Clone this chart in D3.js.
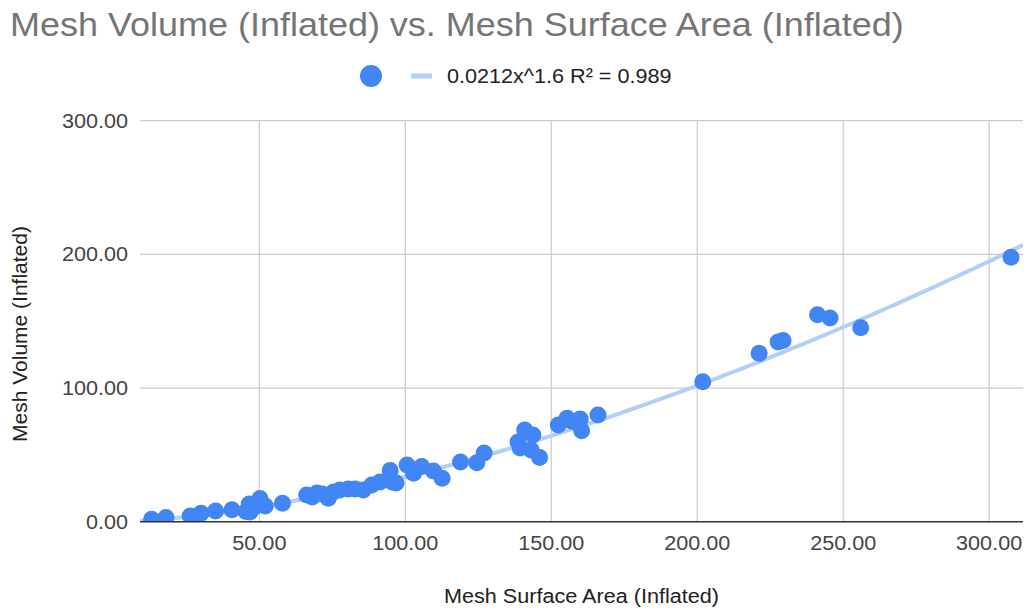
<!DOCTYPE html>
<html>
<head>
<meta charset="utf-8">
<script src="https://cdn.jsdelivr.net/npm/d3@7"></script>
<style>
  body { margin: 0; background: #fff; }
  text { font-family: Arial, "Liberation Sans", sans-serif; }
</style>
</head>
<body>
<script>
// chart data
var surfaceArea = [13.1, 18.0, 26.3, 30.0, 35.0, 40.6, 45.4, 46.5, 46.8, 48.9,
  50.2, 52.0, 57.9, 66.2, 68.1, 69.7, 71.5, 73.6, 75.4, 77.6,
  80.4, 82.8, 85.6, 88.5, 91.3, 94.8, 95.5, 96.8, 100.6, 102.8,
  105.6, 109.6, 112.6, 118.9, 124.5, 127.0, 138.6, 139.3, 140.9, 143.7,
  143.1, 146.0, 152.4, 155.4, 157.1, 159.9, 160.4, 166.0, 201.9, 221.2,
  227.7, 229.4, 241.2, 245.5, 256.0, 307.5];
var volume = [1.8, 3.1, 4.3, 6.3, 8.0, 9.0, 7.6, 13.2, 7.3, 11.7,
  17.4, 11.7, 13.8, 20.0, 18.5, 21.5, 20.7, 17.5, 22.2, 23.7,
  24.5, 24.5, 23.7, 27.5, 29.7, 38.3, 29.7, 29.0, 42.4, 36.2,
  41.3, 37.9, 32.5, 44.7, 44.1, 51.4, 59.6, 55.1, 68.6, 64.9,
  53.6, 48.0, 72.3, 77.4, 75.1, 76.8, 68.1, 79.8, 104.7, 126.0,
  134.4, 135.6, 154.9, 152.4, 145.1, 197.8];
var xTicks = [50, 100, 150, 200, 250, 300];
var yTicks = [0, 100, 200, 300];
// power trendline from the legend: y = a * x^b
var trendA = 0.0212;
var trendB = 1.6;
var legendLabel = "0.0212x^1.6 R\u00b2 = 0.989";

var svgWidth = 1026, svgHeight = 610;
var plot = { left: 140, right: 1023, top: 120.7, bottom: 521.7 };
var pointColor = "#4285f4";
var trendColor = "#b3cefa";

var svg = d3.select("body").append("svg")
  .attr("width", svgWidth)
  .attr("height", svgHeight);

var xScale = d3.scaleLinear().domain([9.1, 311.6]).range([plot.left, plot.right]);
var yScale = d3.scaleLinear().domain([0, 300]).range([plot.bottom, plot.top]);

// the reference text is a bit wider than plain Arial, stretch it slightly
function widen(sel, k) {
  sel.each(function() {
    var w = this.getComputedTextLength();
    d3.select(this)
      .attr("textLength", w * k)
      .attr("lengthAdjust", "spacingAndGlyphs");
  });
}

// title
svg.append("text")
  .attr("x", 10)
  .attr("y", 36)
  .attr("font-size", "33px")
  .attr("fill", "#757575")
  .text("Mesh Volume (Inflated) vs. Mesh Surface Area (Inflated)")
  .call(widen, 1.09);

// legend
svg.append("circle")
  .attr("cx", 371).attr("cy", 76).attr("r", 11)
  .attr("fill", pointColor);
svg.append("line")
  .attr("x1", 411).attr("x2", 432).attr("y1", 76).attr("y2", 76)
  .attr("stroke", trendColor).attr("stroke-width", 5);
svg.append("text")
  .attr("x", 447).attr("y", 83)
  .attr("font-size", "20px")
  .attr("fill", "#222")
  .text(legendLabel)
  .call(widen, 1.08);

// gridlines
var grid = svg.append("g");
grid.selectAll(".hgrid")
  .data(yTicks.filter(d => d > 0))
  .enter().append("line")
  .attr("x1", plot.left).attr("x2", plot.right)
  .attr("y1", d => yScale(d)).attr("y2", d => yScale(d))
  .attr("stroke", "#cccccc").attr("stroke-width", 1.2);
grid.selectAll(".vgrid")
  .data(xTicks)
  .enter().append("line")
  .attr("x1", d => xScale(d)).attr("x2", d => xScale(d))
  .attr("y1", plot.top).attr("y2", plot.bottom)
  .attr("stroke", "#cccccc").attr("stroke-width", 1.2);

// tick labels
svg.selectAll(".ylab")
  .data(yTicks)
  .enter().append("text")
  .attr("x", 128)
  .attr("y", d => yScale(d) + 7)
  .attr("text-anchor", "end")
  .attr("font-size", "20px")
  .attr("fill", "#444")
  .text(d => d3.format(".2f")(d))
  .call(widen, 1.08);
svg.selectAll(".xlab")
  .data(xTicks)
  .enter().append("text")
  .attr("x", d => xScale(d))
  .attr("y", 550)
  .attr("text-anchor", "middle")
  .attr("font-size", "20px")
  .attr("fill", "#444")
  .text(d => d3.format(".2f")(d))
  .call(widen, 1.08);

// axis titles
svg.append("text")
  .attr("x", (plot.left + plot.right) / 2)
  .attr("y", 603)
  .attr("text-anchor", "middle")
  .attr("font-size", "20px")
  .attr("fill", "#222")
  .text("Mesh Surface Area (Inflated)")
  .call(widen, 1.08);
svg.append("text")
  .attr("transform", "translate(27, 334) rotate(-90)")
  .attr("text-anchor", "middle")
  .attr("font-size", "20px")
  .attr("fill", "#222")
  .text("Mesh Volume (Inflated)")
  .call(widen, 1.05);

// clip to the plot area
svg.append("clipPath").attr("id", "plotClip")
  .append("rect")
  .attr("x", plot.left).attr("y", plot.top - 20)
  .attr("width", plot.right - plot.left)
  .attr("height", plot.bottom - plot.top + 20);

var chartGroup = svg.append("g").attr("clip-path", "url(#plotClip)");

// trendline
var trendX = d3.range(0, 201).map(i => xScale.domain()[0] + i * (xScale.domain()[1] - xScale.domain()[0]) / 200);
var trendLine = d3.line()
  .x(d => xScale(d))
  .y(d => yScale(trendA * Math.pow(d, trendB)));
chartGroup.append("path")
  .datum(trendX)
  .attr("d", trendLine)
  .attr("fill", "none")
  .attr("stroke", trendColor)
  .attr("stroke-width", 4);

// points
chartGroup.selectAll("circle")
  .data(surfaceArea)
  .enter().append("circle")
  .attr("cx", d => xScale(d))
  .attr("cy", (d, i) => yScale(volume[i]))
  .attr("r", 8.5)
  .attr("fill", pointColor);

// zero baseline
svg.append("line")
  .attr("x1", plot.left).attr("x2", plot.right)
  .attr("y1", yScale(0)).attr("y2", yScale(0))
  .attr("stroke", "#333").attr("stroke-width", 1.5);
</script>
</body>
</html>
